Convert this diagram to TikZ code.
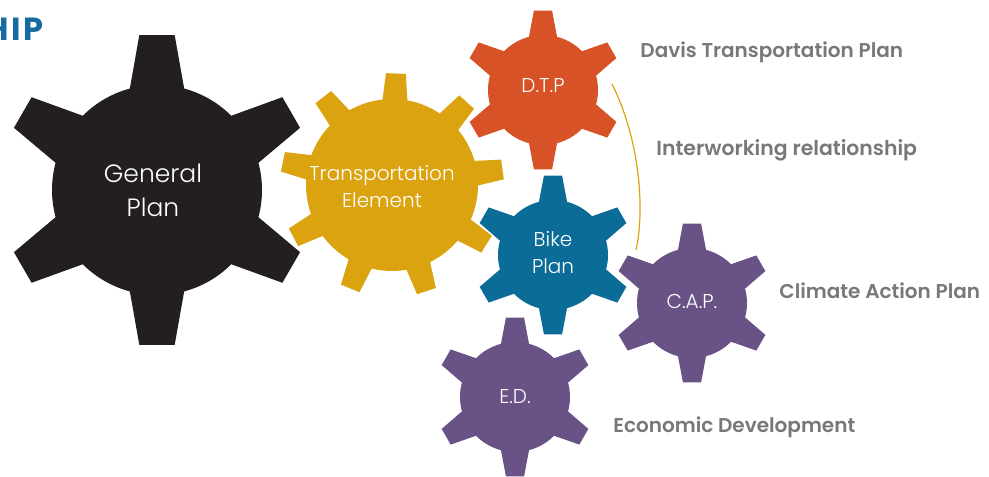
\documentclass[tikz,border=0pt]{standalone}
\usepackage{fontspec}
\usepackage{tikz}
\setmainfont{Poppins}
\newfontfamily\gearfont{Poppins Light}
\newfontfamily\planfont{Poppins SemiBold}
\newfontfamily\titlefont{Poppins Bold}[LetterSpace=9]

\definecolor{gpblack}{HTML}{231F20}
\definecolor{tegold}{HTML}{DBA30F}
\definecolor{dtporange}{HTML}{D75226}
\definecolor{bikeblue}{HTML}{0A6C97}
\definecolor{cappurple}{HTML}{695386}
\definecolor{labelgray}{HTML}{77787B}
\definecolor{titleblue}{HTML}{166CA0}

\begin{document}
\begin{tikzpicture}[x=0.5pt,y=0.5pt,
  gearlabel/.style={text=white, align=center, inner sep=0, font=\gearfont\fontsize{10}{13.5}\selectfont},
  planlabel/.style={text=labelgray, anchor=base west, inner sep=0, font=\planfont\fontsize{10}{12}\selectfont}]

\useasboundingbox (0,0) rectangle (989,476); % page frame


%gear centres
\coordinate (gp) at (157,286);  % general plan
\coordinate (te) at (392,291);  % transportation element
\coordinate (dtp) at (543,386); % davis transportation plan
\coordinate (bp) at (553,221);  % bike plan
\coordinate (cap) at (692,173); % climate action plan
\coordinate (ed) at (515,79);   % economic development


%big black gear, six teeth
\fill [gpblack, shift={(gp)}] (15:105) \foreach \a in {30,90,...,330} {-- (\a-6.5:156) -- (\a+6.5:156) -- (\a+15:105) arc [start angle=\a+15, end angle=\a+45, radius=105]} -- cycle;

%gold gear, nine teeth
\fill [tegold, shift={(te)}] (-0.3:86) \foreach \a in {8,48,...,328} {-- (\a-5.1:112) -- (\a+5.1:112) -- (\a+8.3:86) arc [start angle=\a+8.3, end angle=\a+31.7, radius=86]} -- cycle;

%small gears, six teeth each
\fill [dtporange, shift={(dtp)}] (15.2:55) \foreach \a in {30,90,...,330} {-- (\a-6.5:80) -- (\a+6.5:80) -- (\a+14.8:55) arc [start angle=\a+14.8, end angle=\a+45.2, radius=55]} -- cycle;
\fill [bikeblue, shift={(bp)}] (15.2:55) \foreach \a in {30,90,...,330} {-- (\a-6.5:80) -- (\a+6.5:80) -- (\a+14.8:55) arc [start angle=\a+14.8, end angle=\a+45.2, radius=55]} -- cycle;
\fill [cappurple, shift={(cap)}] (15.2:55) \foreach \a in {30,90,...,330} {-- (\a-6.5:80) -- (\a+6.5:80) -- (\a+14.8:55) arc [start angle=\a+14.8, end angle=\a+45.2, radius=55]} -- cycle;
\fill [cappurple, shift={(ed)}] (15.2:55) \foreach \a in {30,90,...,330} {-- (\a-6.5:80) -- (\a+6.5:80) -- (\a+14.8:55) arc [start angle=\a+14.8, end angle=\a+45.2, radius=55]} -- cycle;


%texts inside the gears
\node [gearlabel, font=\gearfont\fontsize{12.5}{17}\selectfont] (gptext) at ([xshift=-2]gp) {General\\Plan};
\node [gearlabel] (tetext) at ([xshift=-5,yshift=-1]te) {Transportation\\Element};
\node [gearlabel] (dtptext) at ([yshift=2]dtp) {D.T.P};
\node [gearlabel] (bptext) at ([yshift=1]bp) {Bike\\Plan};
\node [gearlabel] (captext) at ([yshift=1]cap) {C.A.P.};
\node [gearlabel] (edtext) at (ed) {E.D.};


%interworking relationship line
\coordinate (relA) at (612,392);
\coordinate (relB) at (636,226);
\draw [tegold, line width=0.6pt] (relA) .. controls (640,336) and (645,266) .. (relB);


%names of the plans
\node [planlabel] (dtpname) at (640,418) {Davis Transportation Plan};
\node [planlabel, font=\planfont\fontsize{10.2}{12}\selectfont] (relname) at (656,320) {Interworking relationship};
\node [planlabel] (capname) at (779,177) {Climate Action Plan};
\node [planlabel] (edname) at (613,43) {Economic Development};

%title, cut at the left edge
\node [anchor=base east, inner sep=0, text=titleblue, font=\titlefont\fontsize{16}{18}\selectfont] (title) at (44,435) {HIP};

\end{tikzpicture}
\end{document}
